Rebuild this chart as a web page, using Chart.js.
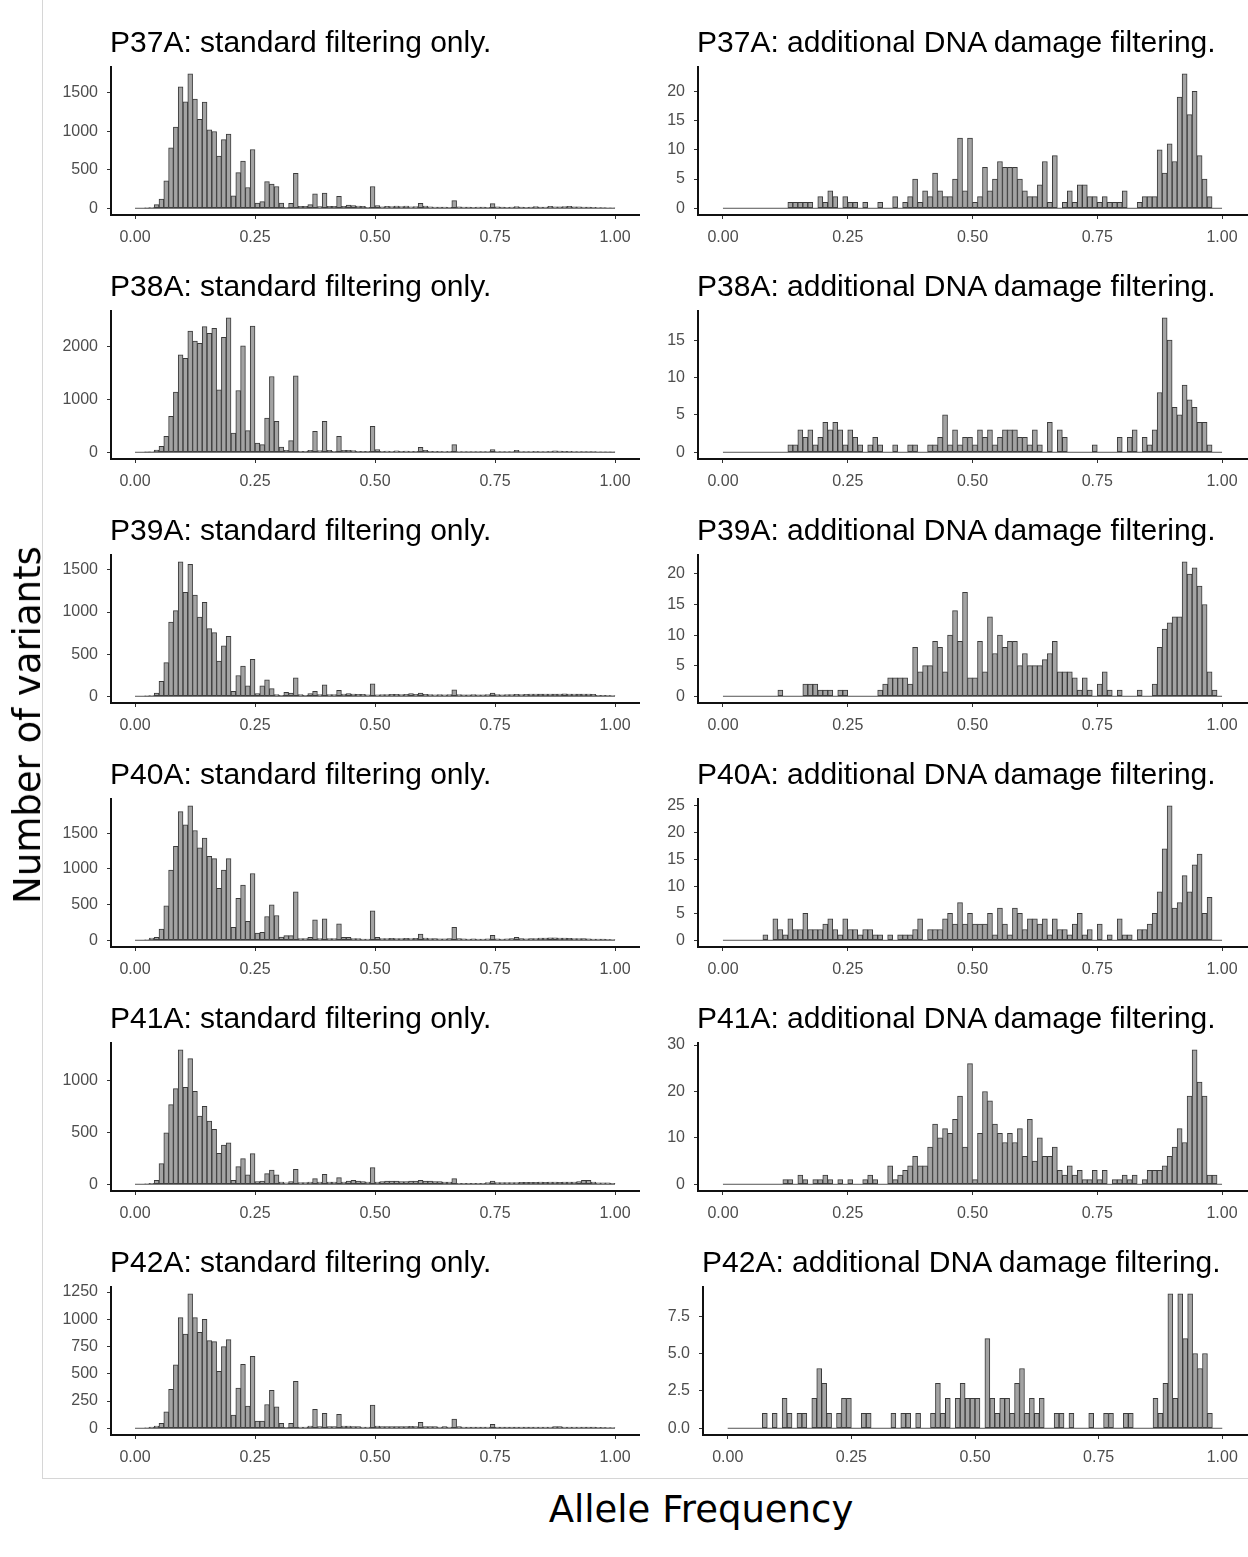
<!DOCTYPE html>
<html>
<head>
<meta charset="utf-8">
<script src="https://cdn.jsdelivr.net/npm/chart.js@4.4.1/dist/chart.umd.min.js"></script>
<style>
  html, body { margin:0; padding:0; background:#fff; }
  body { width:1248px; height:1557px; position:relative; overflow:hidden; }
  canvas { position:absolute; }
  .ptitle { position:absolute; white-space:nowrap; font-family:"Liberation Sans", Arial, sans-serif; font-size:30px; color:#000; line-height:34px; }
  .axtitle { position:absolute; white-space:nowrap; font-family:"DejaVu Sans", sans-serif; font-size:37px; color:#000; line-height:44px; }
  #frame { position:absolute; left:42px; top:-2px; width:1210px; height:1480px; border-left:1px solid #d6d6d6; border-bottom:1px solid #d6d6d6; }
</style>
</head>
<body>
<div id="frame"></div>
<script>
// ---------- data ----------
const BIN_COUNT = 100;
const BIN_WIDTH = 0.01;
const X_TICKS = [0, 0.25, 0.5, 0.75, 1];
const X_TICK_LABELS = ['0.00', '0.25', '0.50', '0.75', '1.00'];

const P37A_STANDARD = [0,0,2,10,47,120,355,784,1054,1577, 1384,1748,1418,1157,1380,1020,998,677,891,964, 163,463,613,270,763,69,86,347,313,283, 69,13,64,454,26,26,47,189,21,197, 26,26,154,26,43,34,30,26,13,283, 34,20,25,22,30,22,28,18,22,64, 30,18,15,14,16,12,99,20,16,14, 12,15,14,12,60,18,14,12,15,22, 14,12,14,22,14,16,24,18,20,22, 24,20,18,16,14,12,10,8,6,4];
const P37A_DAMAGE = [0,0,0,0,0,0,0,0,0,0, 0,0,0,1,1,1,1,1,0,2, 1,3,2,0,2,1,1,0,1,0, 0,1,0,0,2,0,1,2,5,1, 3,2,6,3,2,2,5,12,3,12, 1,2,7,3,5,8,7,7,7,5, 3,2,2,4,8,1,9,0,1,3, 1,4,4,2,2,1,2,1,1,1, 3,0,0,1,2,2,2,10,6,11, 8,19,23,16,20,9,5,2,0,0];
const P38A_STANDARD = [0,0,2,8,40,113,302,680,1138,1843, 1780,2296,2107,2063,2378,2252,2346,1183,2176,2547, 365,1170,2013,409,2390,176,145,648,1434,585, 100,38,220,1447,19,19,38,396,31,585, 38,19,302,38,38,31,19,19,19,490, 50,20,22,18,25,20,22,18,20,94, 38,20,18,16,15,18,145,15,14,12, 14,12,12,14,50,15,12,14,12,38, 15,12,14,16,15,14,18,25,22,20, 16,14,13,12,12,11,10,8,6,4];
const P38A_DAMAGE = [0,0,0,0,0,0,0,0,0,0, 0,0,0,1,1,3,2,3,1,2, 4,3,4,3,1,3,2,1,0,1, 2,1,0,0,1,0,0,1,1,0, 0,1,1,2,5,1,3,1,2,2, 1,3,2,3,1,2,3,3,3,2, 2,1,3,1,0,4,0,3,2,0, 0,0,0,0,1,0,0,0,0,2, 0,2,3,0,2,1,3,8,18,15, 6,5,9,7,6,4,4,1,0,0];
const P39A_STANDARD = [0,0,2,8,39,176,400,881,1018,1598, 1234,1566,1202,940,1116,803,756,419,599,713, 59,247,360,125,439,31,125,196,90,20, 12,47,39,219,20,12,31,59,20,137, 20,20,70,27,31,27,23,23,16,149, 16,20,20,23,23,20,23,31,23,39, 23,20,16,20,16,20,78,20,18,18, 20,18,18,20,39,20,18,20,20,23, 20,22,27,27,25,27,27,25,27,30, 27,27,25,27,27,23,12,12,10,8];
const P39A_DAMAGE = [0,0,0,0,0,0,0,0,0,0, 0,1,0,0,0,0,2,2,2,1, 1,1,0,1,1,0,0,0,0,0, 0,1,2,3,3,3,3,2,8,4, 5,5,9,8,4,10,14,9,17,3, 3,9,4,13,7,10,8,9,9,5, 7,5,5,5,6,7,9,4,4,4, 3,1,3,1,0,2,4,1,0,1, 0,0,0,1,0,0,2,8,11,12, 13,13,22,20,21,18,15,4,1,0];
const P40A_STANDARD = [0,0,5,32,42,157,481,982,1315,1801, 1616,1884,1537,1296,1431,1176,1144,727,982,1144, 181,588,773,264,935,102,111,333,495,347, 46,65,65,680,23,23,42,287,23,301, 23,23,231,42,42,23,23,18,18,412, 42,25,25,28,25,25,28,25,28,88, 32,25,22,20,20,22,181,22,20,18, 20,18,18,20,69,20,18,20,22,42, 22,20,22,25,32,32,35,35,32,30, 28,25,25,22,20,18,16,15,12,10];
const P40A_DAMAGE = [0,0,0,0,0,0,0,0,1,0, 4,2,1,4,2,2,5,2,2,2, 3,4,2,1,4,2,2,1,2,2, 1,1,0,1,0,1,1,1,2,4, 0,2,2,2,4,5,3,7,3,5, 3,3,3,5,1,6,3,1,6,5, 2,4,4,3,4,1,4,2,2,1, 3,5,1,2,0,3,0,1,0,4, 1,1,0,2,2,3,5,9,17,25, 6,7,12,9,14,16,5,8,0,0];
const P41A_STANDARD = [0,0,3,10,38,199,497,769,923,1298, 936,1212,897,657,753,609,529,298,378,401, 38,170,247,90,295,26,32,103,138,90, 22,13,26,144,16,16,22,54,22,96, 22,22,64,22,32,38,32,26,22,160, 22,26,32,32,32,26,26,32,32,38, 32,32,26,26,22,22,54,10,10,10, 10,10,10,16,32,16,16,16,16,16, 19,19,19,19,22,19,22,22,19,22, 22,22,26,38,38,22,13,13,13,10];
const P41A_DAMAGE = [0,0,0,0,0,0,0,0,0,0, 0,0,1,1,0,2,1,0,1,1, 2,1,0,1,0,1,0,0,1,2, 1,0,0,4,1,2,3,4,6,4, 4,8,13,10,12,11,14,19,8,26, 1,11,20,18,13,11,9,11,9,12, 6,14,5,10,6,6,8,3,2,4, 2,3,1,1,3,1,3,0,1,1, 2,1,2,0,1,3,3,3,4,6, 8,12,9,19,29,22,19,2,2,0];
const P42A_STANDARD = [0,0,3,10,21,46,152,358,583,1016, 865,1235,1016,880,1001,804,795,522,749,813, 121,370,586,203,661,67,67,218,349,197, 46,9,46,431,12,12,21,173,15,137, 15,15,127,21,21,15,15,12,12,212, 21,15,15,15,15,15,15,18,15,55, 15,15,15,12,15,12,85,15,12,10, 10,10,10,12,36,10,10,10,10,10, 12,10,10,12,12,12,12,15,15,12, 12,12,12,10,10,10,8,8,6,6];
const P42A_DAMAGE = [0,0,0,0,0,0,0,1,0,1, 0,2,1,0,1,1,0,2,4,3, 1,0,1,2,2,0,0,1,1,0, 0,0,0,1,0,1,1,0,1,0, 0,1,3,1,2,0,2,3,2,2, 2,0,6,2,1,2,2,1,3,4, 1,2,1,2,0,0,1,1,0,1, 0,0,0,1,0,0,1,1,0,0, 1,1,0,0,0,0,2,1,3,9, 2,9,6,9,5,4,5,1,0,0];

const Y_TICKS_P37A_STANDARD = [0, 500, 1000, 1500];
const Y_TICKS_P37A_DAMAGE = [0, 5, 10, 15, 20];
const Y_TICKS_P38A_STANDARD = [0, 1000, 2000];
const Y_TICKS_P38A_DAMAGE = [0, 5, 10, 15];
const Y_TICKS_P39A_STANDARD = [0, 500, 1000, 1500];
const Y_TICKS_P39A_DAMAGE = [0, 5, 10, 15, 20];
const Y_TICKS_P40A_STANDARD = [0, 500, 1000, 1500];
const Y_TICKS_P40A_DAMAGE = [0, 5, 10, 15, 20, 25];
const Y_TICKS_P41A_STANDARD = [0, 500, 1000];
const Y_TICKS_P41A_DAMAGE = [0, 10, 20, 30];
const Y_TICKS_P42A_STANDARD = [0, 250, 500, 750, 1000, 1250];
const Y_TICKS_P42A_DAMAGE = [0, 2.5, 5, 7.5];
const Y_LABELS_P42A_DAMAGE = ['0.0', '2.5', '5.0', '7.5'];

const TITLES = [
  'P37A: standard filtering only.', 'P37A: additional DNA damage filtering.',
  'P38A: standard filtering only.', 'P38A: additional DNA damage filtering.',
  'P39A: standard filtering only.', 'P39A: additional DNA damage filtering.',
  'P40A: standard filtering only.', 'P40A: additional DNA damage filtering.',
  'P41A: standard filtering only.', 'P41A: additional DNA damage filtering.',
  'P42A: standard filtering only.', 'P42A: additional DNA damage filtering.'
];
const Y_AXIS_TITLE = 'Number of variants';
const X_AXIS_TITLE = 'Allele Frequency';

// ---------- layout ----------
const ROW_TOPS = [67, 311, 555, 799, 1043, 1287];
const AREA_H = 148;
const PT = 24, PR = 6, XH = 42;
const TICK_FONT = { family: '"Liberation Sans", Arial, sans-serif', size: 16 };
const TICK_COLOR = '#4d4d4d';

const PANELS = [
  { values: P37A_STANDARD, ticks: Y_TICKS_P37A_STANDARD },
  { values: P37A_DAMAGE, ticks: Y_TICKS_P37A_DAMAGE },
  { values: P38A_STANDARD, ticks: Y_TICKS_P38A_STANDARD },
  { values: P38A_DAMAGE, ticks: Y_TICKS_P38A_DAMAGE },
  { values: P39A_STANDARD, ticks: Y_TICKS_P39A_STANDARD },
  { values: P39A_DAMAGE, ticks: Y_TICKS_P39A_DAMAGE },
  { values: P40A_STANDARD, ticks: Y_TICKS_P40A_STANDARD },
  { values: P40A_DAMAGE, ticks: Y_TICKS_P40A_DAMAGE },
  { values: P41A_STANDARD, ticks: Y_TICKS_P41A_STANDARD },
  { values: P41A_DAMAGE, ticks: Y_TICKS_P41A_DAMAGE },
  { values: P42A_STANDARD, ticks: Y_TICKS_P42A_STANDARD },
  { values: P42A_DAMAGE, ticks: Y_TICKS_P42A_DAMAGE, labels: Y_LABELS_P42A_DAMAGE }
];

const binCenters = Array.from({ length: BIN_COUNT }, (_, k) => (k + 0.5) * BIN_WIDTH);

PANELS.forEach((p, i) => {
  const col = i % 2, row = Math.floor(i / 2);
  let areaLeft, areaRight, YW;
  if (col === 0) { areaLeft = 111; areaRight = 639; YW = 70; }
  else { areaLeft = (i === 11) ? 703 : 698; areaRight = 1247; YW = 55; }
  const areaTop = ROW_TOPS[row];
  const areaW = areaRight - areaLeft;

  const cv = document.createElement('canvas');
  const W = YW + areaW + PR, H = PT + AREA_H + XH;
  cv.width = W; cv.height = H;
  cv.style.width = W + 'px'; cv.style.height = H + 'px';
  cv.style.left = (areaLeft - YW) + 'px';
  cv.style.top = (areaTop - PT) + 'px';
  document.body.appendChild(cv);

  const title = document.createElement('div');
  title.className = 'ptitle';
  title.textContent = TITLES[i];
  title.style.left = (areaLeft - 1) + 'px';
  title.style.top = (areaTop - 25 - 17) + 'px';
  document.body.appendChild(title);

  const M = Math.max(...p.values);
  const yLabels = p.labels || p.ticks.map(String);

  new Chart(cv, {
    type: 'bar',
    data: {
      datasets: [
        {
          type: 'line',
          data: [{ x: 0, y: 0 }, { x: 1, y: 0 }],
          borderColor: '#555555', borderWidth: 1, pointRadius: 0, order: 0
        },
        {
          type: 'bar',
          data: binCenters.map((x, k) => ({ x: x, y: p.values[k] })),
          backgroundColor: '#a3a3a3',
          borderColor: '#3a3a3a',
          borderWidth: 1,
          borderSkipped: false,
          barPercentage: 1,
          categoryPercentage: 1,
          order: 1
        }
      ]
    },
    options: {
      responsive: false,
      animation: false,
      devicePixelRatio: 1,
      events: [],
      layout: { padding: { top: PT, left: 0, right: PR, bottom: 0 } },
      plugins: { legend: { display: false }, tooltip: { enabled: false }, title: { display: false } },
      scales: {
        x: {
          type: 'linear', min: -0.05, max: 1.05, offset: false,
          afterBuildTicks: s => { s.ticks = X_TICKS.map(v => ({ value: v })); },
          afterFit: s => { s.height = XH; },
          ticks: { callback: (v, idx) => X_TICK_LABELS[idx], font: TICK_FONT, color: TICK_COLOR, padding: 9, maxRotation: 0, autoSkip: false },
          grid: { offset: false, drawOnChartArea: false, drawTicks: true, tickLength: 4, color: '#333', lineWidth: 1 },
          border: { display: true, color: '#111', width: 2 }
        },
        y: {
          type: 'linear', min: -0.05 * M, max: 1.05 * M,
          afterBuildTicks: s => { s.ticks = p.ticks.map(v => ({ value: v })); },
          afterFit: s => { s.width = YW; },
          ticks: { callback: (v, idx) => yLabels[idx], font: TICK_FONT, color: TICK_COLOR, padding: 9, autoSkip: false },
          grid: { drawOnChartArea: false, drawTicks: true, tickLength: 4, color: '#333', lineWidth: 1 },
          border: { display: true, color: '#111', width: 2 }
        }
      }
    }
  });
});

const yt = document.createElement('div');
yt.className = 'axtitle';
yt.textContent = Y_AXIS_TITLE;
yt.style.left = '28px'; yt.style.top = '725px';
yt.style.transform = 'translate(-50%, -50%) rotate(-90deg)';
document.body.appendChild(yt);

const xt = document.createElement('div');
xt.className = 'axtitle';
xt.textContent = X_AXIS_TITLE;
xt.style.left = '701px'; xt.style.top = '1510px';
xt.style.transform = 'translate(-50%, -50%)';
document.body.appendChild(xt);
</script>
</body>
</html>
